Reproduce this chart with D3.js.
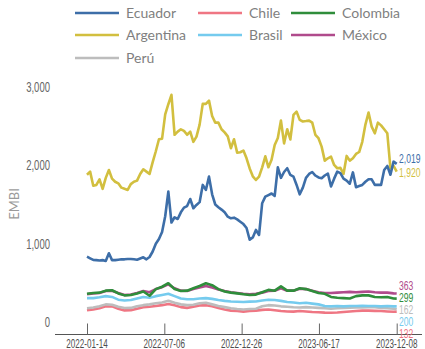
<!DOCTYPE html>
<html>
<head>
<meta charset="utf-8">
<script src="https://cdn.jsdelivr.net/npm/d3@7"></script>
<style>
  body { margin: 0; background: #fff; }
  .narrow { font-family: "Liberation Sans", Arial, sans-serif; }
</style>
</head>
<body>
<div class="chart"></div>
<script>
var svgWidth = 425;
var svgHeight = 349;

// weekly dates (Ecuador, Argentina) and every other week (others)
var startDate = new Date(2022, 0, 14);
var weeks = d3.range(100).map(function(i) { return d3.timeDay.offset(startDate, 7 * i); });
var fortnights = weeks.filter(function(d, i) { return i % 2 === 0; }).concat([weeks[99]]);

var tickDates = ["2022-01-14", "2022-07-06", "2022-12-26", "2023-06-17", "2023-12-08"];
var yTicks = [0, 1000, 2000, 3000];

var ecuador = [834, 813, 792, 790, 785, 790, 780, 877, 790, 790,
  795, 800, 800, 805, 805, 800, 795, 810, 826, 800,
  830, 900, 1000, 1060, 1150, 1350, 1664, 1270, 1337, 1315,
  1400, 1460, 1480, 1570, 1452, 1494, 1530, 1750, 1686, 1856,
  1630, 1500, 1465, 1435, 1400, 1345, 1324, 1332, 1310, 1280,
  1250, 1200, 1050, 1080, 1175, 1111, 1516, 1600, 1620, 1640,
  1610, 1975, 1840, 1915, 1963, 1877, 1856, 1750, 1630, 1715,
  1840, 1890, 1915, 1870, 1845, 1835, 1870, 1895, 1730, 1830,
  1920, 1900, 1830, 1805, 1765, 1910, 1720, 1735, 1750, 1790,
  1822, 1822, 1750, 1750, 1750, 1941, 1992, 1880, 2047, 2019];

var argentina = [1880, 1920, 1740, 1750, 1820, 1700, 1840, 1940, 1830, 1790,
  1770, 1715, 1700, 1686, 1760, 1790, 1805, 1890, 1950, 1920,
  1890, 2040, 2180, 2333, 2340, 2650, 2780, 2900, 2390, 2430,
  2460, 2440, 2390, 2430, 2300, 2366, 2520, 2784, 2784, 2826,
  2630, 2545, 2545, 2461, 2420, 2370, 2218, 2333, 2162, 2167,
  2188, 2090, 1960, 1860, 1813, 1856, 1975, 2115, 1975, 2070,
  2260, 2350, 2571, 2280, 2461, 2330, 2643, 2686, 2580, 2560,
  2565, 2571, 2545, 2390, 2346, 2239, 2060, 2090, 2111, 2005,
  1963, 1967, 1890, 2120, 2060, 2090, 2145, 2170, 2300, 2520,
  2673, 2494, 2409, 2545, 2510, 2460, 2409, 1960, 1992, 1920];

var mexico = [355, 365, 370, 395, 400, 370, 345, 350, 370, 395,
  380, 420, 445, 480, 430, 400, 395, 420, 440, 460,
  440, 415, 395, 380, 370, 360, 355, 360, 375, 395,
  400, 430, 400, 400, 425, 420, 400, 380, 370, 370,
  375, 380, 385, 380, 385, 390, 380, 375, 375, 365, 363];

var colombia = [360, 370, 375, 400, 405, 365, 340, 345, 365, 390,
  335, 420, 450, 495, 420, 395, 400, 430, 460, 495,
  470, 420, 390, 375, 365, 355, 345, 350, 380, 410,
  400, 455, 400, 400, 430, 420, 395, 370, 360, 320,
  310, 305, 300, 330, 340, 340, 320, 315, 320, 300, 299];

var brasil = [305, 305, 315, 330, 320, 285, 275, 280, 300, 320,
  310, 330, 345, 360, 330, 300, 290, 290, 300, 305,
  295, 280, 270, 262, 258, 255, 260, 262, 275, 285,
  280, 270, 255, 248, 240, 245, 235, 225, 205, 200,
  205, 200, 205, 205, 208, 205, 205, 200, 205, 200, 200];

var peru = [175, 185, 200, 225, 220, 195, 178, 180, 200, 215,
  225, 240, 250, 270, 245, 225, 215, 220, 240, 245,
  225, 205, 190, 175, 165, 160, 165, 170, 200, 215,
  210, 200, 195, 188, 185, 190, 185, 180, 175, 170,
  175, 180, 182, 185, 185, 188, 188, 180, 175, 170, 162];

var chile = [150, 160, 175, 200, 200, 170, 148, 150, 170, 188,
  195, 205, 215, 230, 215, 190, 180, 195, 210, 215,
  200, 180, 160, 145, 140, 132, 140, 145, 155, 160,
  150, 140, 135, 132, 140, 135, 128, 125, 120, 118,
  122, 128, 135, 140, 145, 145, 142, 140, 135, 130, 132];

var colors = {
  Ecuador: "#3d6ea8", Argentina: "#d2bf3f", Chile: "#ef7683", Brasil: "#75cbee",
  Colombia: "#2f8d3b", "México": "#b04b8c", "Perú": "#bdbdbd"
};

var series = [
  { name: "Chile", dates: fortnights, values: chile },
  { name: "Perú", dates: fortnights, values: peru },
  { name: "Brasil", dates: fortnights, values: brasil },
  { name: "México", dates: fortnights, values: mexico },
  { name: "Colombia", dates: fortnights, values: colombia },
  { name: "Argentina", dates: weeks, values: argentina },
  { name: "Ecuador", dates: weeks, values: ecuador }
];

var legendRows = [["Ecuador", "Chile", "Colombia"], ["Argentina", "Brasil", "México"], ["Perú"]];

var endLabels = [
  { name: "Ecuador", text: "2,019", y: 158 },
  { name: "Argentina", text: "1,920", y: 172 },
  { name: "México", text: "363", y: 285 },
  { name: "Colombia", text: "299", y: 297 },
  { name: "Perú", text: "162", y: 309 },
  { name: "Brasil", text: "200", y: 321.5 },
  { name: "Chile", text: "132", y: 333.5 }
];

var parse = d3.timeParse("%Y-%m-%d");

var svg = d3.select(".chart")
  .append("svg")
  .attr("width", svgWidth)
  .attr("height", svgHeight);

var xScale = d3.scaleTime()
  .domain([parse("2022-01-14"), parse("2023-12-08")])
  .range([87, 396.7]);

var yScale = d3.scaleLinear()
  .domain([0, 3000])
  .range([322, 87]);

// condensed look: squeeze Liberation Sans horizontally
function squeeze(x, y, sx) {
  return "translate(" + x + "," + y + ") scale(" + sx + ",1)";
}

// y labels
svg.selectAll(".ylab")
  .data(yTicks)
  .enter()
  .append("text")
  .attr("class", "narrow")
  .attr("transform", function(d) { return squeeze(50, yScale(d), 0.68); })
  .attr("dy", "0.35em")
  .attr("text-anchor", "end")
  .attr("font-size", "14px")
  .attr("fill", "#666")
  .text(d3.format(","));

svg.append("text")
  .attr("transform", "translate(19,204) rotate(-90)")
  .attr("text-anchor", "middle")
  .attr("font-family", "Lato, sans-serif")
  .attr("font-size", "13px")
  .attr("fill", "#9a9a9a")
  .text("EMBI");

// x axis
svg.append("line")
  .attr("x1", 55).attr("x2", 422)
  .attr("y1", 334.5).attr("y2", 334.5)
  .attr("stroke", "#555")
  .attr("stroke-width", 1);

var xAxis = svg.append("g")
  .attr("transform", "translate(0,334.5)")
  .call(d3.axisTop(xScale).tickValues(tickDates.map(parse)).tickSize(11).tickFormat(""));
xAxis.select(".domain").remove();
xAxis.selectAll("line").attr("stroke", "#666");

svg.selectAll(".xlab")
  .data(tickDates)
  .enter()
  .append("text")
  .attr("class", "narrow")
  .attr("transform", function(d) { return squeeze(xScale(parse(d)), 343.5, 0.6); })
  .attr("dy", "0.35em")
  .attr("text-anchor", "middle")
  .attr("font-size", "13.5px")
  .attr("fill", "#4d4d4d")
  .text(function(d) { return d; });

// lines
var line = d3.line()
  .x(function(d) { return xScale(d[0]); })
  .y(function(d) { return yScale(d[1]); });

series.forEach(function(s) {
  svg.append("path")
    .datum(d3.zip(s.dates, s.values))
    .attr("fill", "none")
    .attr("stroke", colors[s.name])
    .attr("stroke-width", 2.6)
    .attr("stroke-linejoin", "round")
    .attr("d", line);
});

// end labels
svg.selectAll(".endlab")
  .data(endLabels)
  .enter()
  .append("text")
  .attr("class", "narrow")
  .attr("transform", function(d) { return squeeze(399, d.y, 0.66); })
  .attr("dy", "0.35em")
  .attr("font-size", "13px")
  .attr("fill", function(d) { return colors[d.name]; })
  .text(function(d) { return d.text; });

// legend
var colX = [75, 198, 291];
var rowY = [13, 35, 58];
legendRows.forEach(function(row, r) {
  row.forEach(function(name, c) {
    svg.append("line")
      .attr("x1", colX[c]).attr("x2", colX[c] + 44)
      .attr("y1", rowY[r]).attr("y2", rowY[r])
      .attr("stroke", colors[name])
      .attr("stroke-width", 2.5);
    svg.append("text")
      .attr("x", colX[c] + 51)
      .attr("y", rowY[r])
      .attr("dy", "0.35em")
      .attr("font-family", "Lato, sans-serif")
      .attr("font-size", "14px")
      .attr("fill", "#7f7f7f")
      .text(name);
  });
});
</script>
</body>
</html>
